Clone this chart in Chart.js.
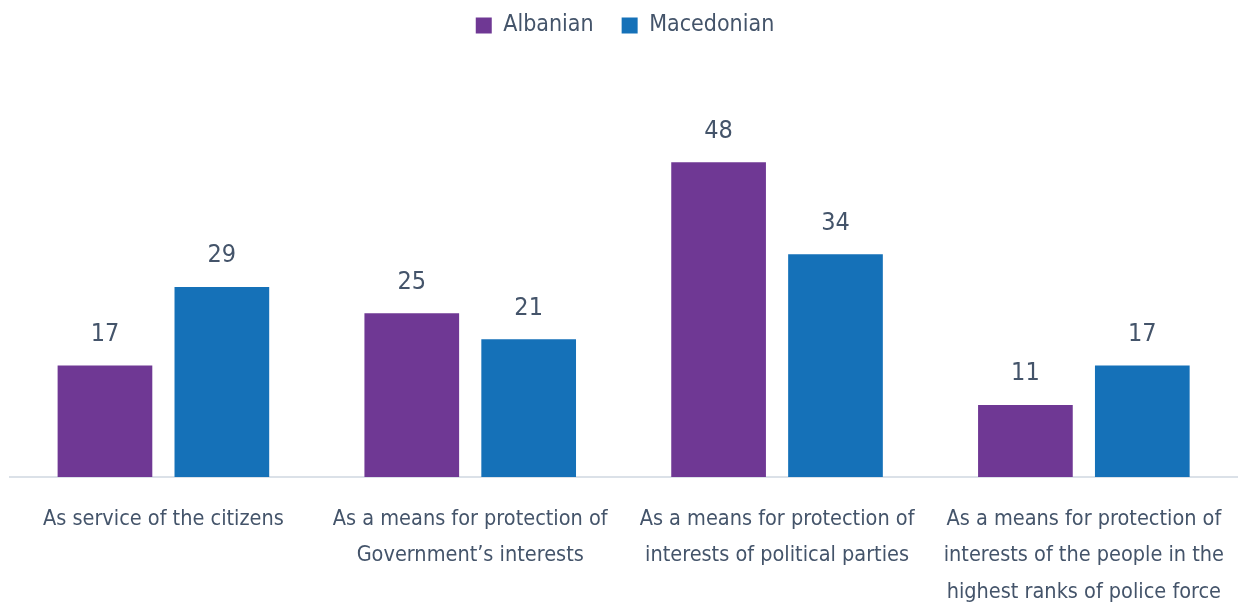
<!DOCTYPE html>
<html>
<head>
<meta charset="utf-8">
<script src="https://cdn.jsdelivr.net/npm/chart.js@4.4.1/dist/chart.umd.min.js"></script>
<style>
  html, body { margin: 0; padding: 0; background: #fff; }
  #wrap { width: 1240px; height: 610px; }
</style>
</head>
<body>
<div id="wrap"><canvas id="chart"></canvas></div>
<script>
'use strict';

const categories = [
  ['As service of the citizens'],
  ['As a means for protection of', 'Government\u2019s interests'],
  ['As a means for protection of', 'interests of political parties'],
  ['As a means for protection of', 'interests of the people in the', 'highest ranks of police force'],
];
const seriesNames = ['Albanian', 'Macedonian'];
const albanian = [17, 25, 48, 11];
const macedonian = [29, 21, 34, 17];

const textColor = '#44546a';
const fontFamily = "'Liberation Sans Narrow', 'DejaVu Sans Condensed', 'Roboto Condensed', sans-serif";

// value labels above each bar
const barValues = {
  id: 'barValues',
  afterDatasetsDraw(chart) {
    const { ctx } = chart;
    ctx.save();
    ctx.fillStyle = textColor;
    ctx.font = `25px ${fontFamily}`;
    ctx.textAlign = 'center';
    ctx.textBaseline = 'middle';
    chart.data.datasets.forEach((ds, i) => {
      chart.getDatasetMeta(i).data.forEach((bar, j) => {
        ctx.fillText(String(ds.data[j]), bar.x, bar.y - 31);
      });
    });
    ctx.restore();
  }
};

new Chart('chart', {
  type: 'bar',
  data: {
    labels: categories,
    datasets: [
      { label: seriesNames[0], data: albanian, backgroundColor: '#6f3894' },
      { label: seriesNames[1], data: macedonian, backgroundColor: '#1571b8' },
    ]
  },
  options: {
    responsive: true,
    maintainAspectRatio: false,
    animation: false,
    categoryPercentage: 0.762,
    barPercentage: 0.81,
    layout: { padding: { left: 10, right: 0, top: -14, bottom: 0 } },
    plugins: {
      legend: {
        position: 'top',
        labels: {
          color: textColor,
          font: { family: fontFamily, size: 23 },
          boxWidth: 16,
          boxHeight: 16,
          padding: 28,
        }
      },
      tooltip: { enabled: false },
    },
    scales: {
      x: {
        grid: { display: false },
        border: { color: '#dbe1e8', width: 2 },
        ticks: {
          color: textColor,
          font: { family: fontFamily, size: 21.5, lineHeight: 1.7 },
          padding: 16,
          maxRotation: 0,
          autoSkip: false,
        },
        afterFit(scale) { scale.height = 133; },
      },
      y: {
        display: false,
        min: 0,
        max: 65.6,
      }
    }
  },
  plugins: [barValues]
});
</script>
</body>
</html>
